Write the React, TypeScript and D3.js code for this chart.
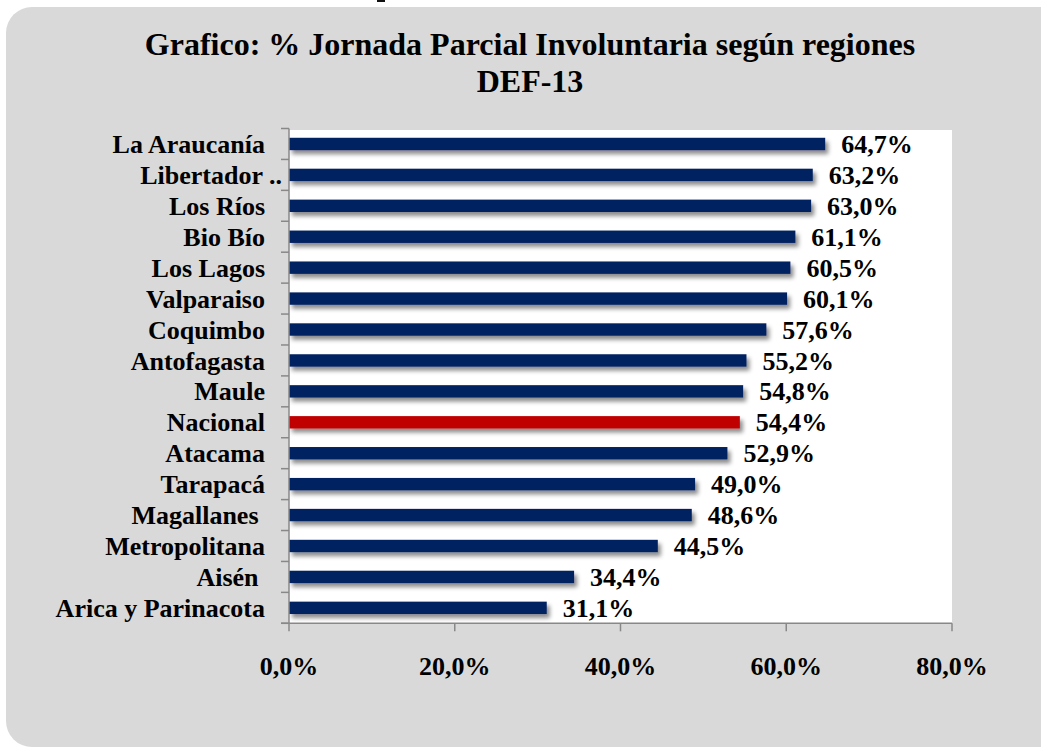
import React from "react"
import * as d3 from "d3"

const regions = [
  "La Araucanía",
  "Libertador ..",
  "Los Ríos",
  "Bio Bío",
  "Los Lagos",
  "Valparaiso",
  "Coquimbo",
  "Antofagasta",
  "Maule",
  "Nacional",
  "Atacama",
  "Tarapacá",
  "Magallanes\u00a0",
  "Metropolitana",
  "Aisén\u00a0",
  "Arica y Parinacota",
]
const values = [64.7, 63.2, 63.0, 61.1, 60.5, 60.1, 57.6, 55.2, 54.8, 54.4, 52.9, 49.0, 48.6, 44.5, 34.4, 31.1]
const highlight = "Nacional"
const xTicks = [0, 20, 40, 60, 80]
const titleLines = ["Grafico: % Jornada Parcial Involuntaria según regiones", "DEF-13"]

const width = 1041
const height = 751
const font = "'Liberation Serif', 'Times New Roman', serif"

const App = () => {
  const margin = { left: 289, right: 89, top: 128.5, bottom: 127.7 }
  const innerW = width - margin.left - margin.right
  const innerH = height - margin.top - margin.bottom

  const x = d3.scaleLinear().domain([0, 80]).range([0, innerW])
  const y = d3.scaleBand().domain(regions).range([0, innerH]).paddingInner(0.6).paddingOuter(0.3)
  const step = y.step()
  const fmt = (v: number) => d3.format(".1f")(v).replace(".", ",") + "%"

  return (
    <svg
      width={width}
      height={height}
      style={{ position: "absolute", left: 0, top: 0, fontFamily: font }}
    >
      <defs>
        <filter id="shadow" x="-5%" y="-50%" width="115%" height="250%">
          <feDropShadow dx="3" dy="4" stdDeviation="2" floodColor="#000" floodOpacity="0.45" />
        </filter>
      </defs>
      <rect width={width} height={height} fill="#fff" />
      {/* foot of a letter from the page above, cut by the crop */}
      <rect x={377} y={0} width={8} height={2} fill="#111" />
      <rect x={6} y={7} width={width + 40} height={740} rx={26} fill="#d9d9d9" />

      {titleLines.map((t, i) => (
        <text
          key={t}
          x={530}
          y={55 + i * 37}
          textAnchor="middle"
          fontSize={32}
          fontWeight="bold"
        >
          {t}
        </text>
      ))}

      <g transform={`translate(${margin.left},${margin.top})`}>
        <rect x={0} y={1.5} width={innerW} height={innerH - 1.5} fill="#fff" />

        {regions.map((r, i) => (
          <g key={r}>
            <rect
              x={0}
              y={y(r)}
              width={x(values[i])}
              height={y.bandwidth()}
              fill={r === highlight ? "#c00000" : "#002060"}
              filter="url(#shadow)"
            />
            <text
              x={x(values[i]) + 16}
              y={(y(r) ?? 0) + y.bandwidth() / 2}
              dy="0.35em"
              fontSize={26}
              fontWeight="bold"
            >
              {fmt(values[i])}
            </text>
            <text
              x={r.endsWith("..") ? -7 : -24}
              y={(y(r) ?? 0) + y.bandwidth() / 2}
              dy="0.35em"
              textAnchor="end"
              fontSize={26}
              fontWeight="bold"
              style={{ whiteSpace: "pre" }}
            >
              {r}
            </text>
          </g>
        ))}

        {/* y axis */}
        <line x1={0} x2={0} y1={0} y2={innerH} stroke="#888" strokeWidth={1.5} />
        {d3.range(regions.length + 1).map((i) => (
          <line key={i} x1={-8} x2={0} y1={i * step} y2={i * step} stroke="#888" strokeWidth={1.5} />
        ))}

        {/* x axis */}
        <line x1={-8} x2={innerW} y1={innerH} y2={innerH} stroke="#888" strokeWidth={1.5} />
        {xTicks.map((t) => (
          <g key={t} transform={`translate(${x(t)},${innerH})`}>
            <line y1={0} y2={8} stroke="#888" strokeWidth={1.5} />
            <text y={52} textAnchor="middle" fontSize={26} fontWeight="bold">
              {fmt(t)}
            </text>
          </g>
        ))}
      </g>
    </svg>
  )
}

export default App
